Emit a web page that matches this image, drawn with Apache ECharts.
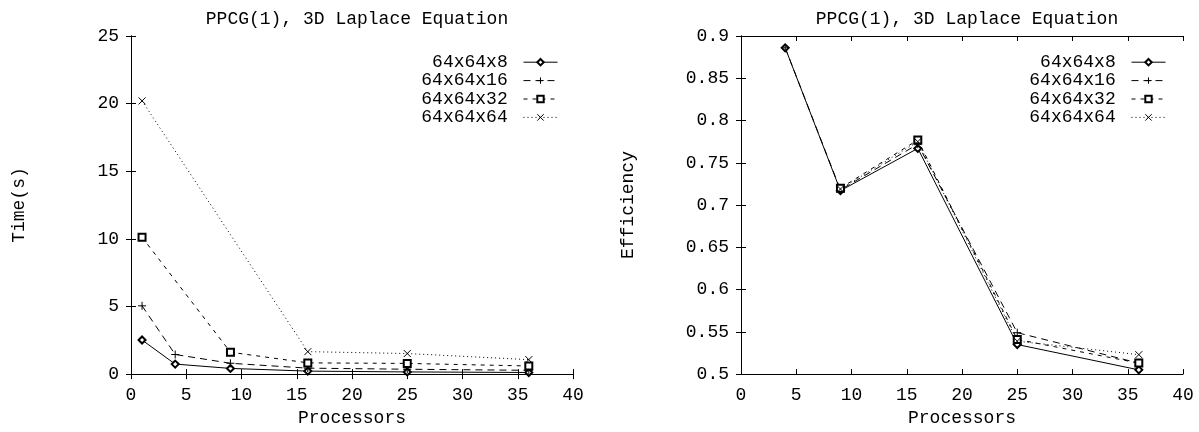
<!DOCTYPE html>
<html>
<head>
<meta charset="utf-8">
<script src="https://cdn.jsdelivr.net/npm/echarts@6/dist/echarts.min.js"></script>
<style>
  html, body { margin: 0; padding: 0; background: #fff; }
  #main { width: 1199px; height: 432px; }
</style>
</head>
<body>
<div id="main"></div>
<script>
// processors for the time plot
const procs = [1, 4, 9, 16, 25, 36]
const time8 = [2.52, 0.74, 0.42, 0.22, 0.16, 0.12]
const time16 = [5.05, 1.45, 0.8, 0.44, 0.36, 0.28]
const time32 = [10.12, null, 1.62, 0.83, 0.79, 0.6]
const time64 = [20.2, null, null, 1.66, 1.52, 1.07]

// processors for the efficiency plot
const effProcs = [4, 9, 16, 25, 36]
const eff8 = [0.886, 0.717, 0.767, 0.535, 0.505]
const eff16 = [0.886, 0.718, 0.772, 0.549, 0.513]
const eff32 = [null, 0.72, 0.777, 0.541, 0.513]
const eff64 = [null, 0.719, 0.775, 0.539, 0.523]

const names = ['64x64x8', '64x64x16', '64x64x32', '64x64x64']

const FONT = 'Liberation Mono'
const txt = { color: '#000', fontFamily: FONT, fontSize: 18 }

function pairs(xs, ys) {
  const out = []
  for (let i = 0; i < xs.length; i++) {
    if (ys[i] != null) out.push([xs[i], ys[i]])
  }
  return out
}

// styles: solid + diamond, long dash + plus, short dash + square, dotted + cross
const styles = [
  { type: 'solid', symbol: 'emptyDiamond', size: 7, stroke: false },
  { type: [7, 5], symbol: 'path://M5,0L5,10M0,5L10,5', size: 8, stroke: true },
  { type: [4, 5], symbol: 'emptyRect', size: 7, stroke: false },
  { type: [1, 3], symbol: 'path://M0,0L10,10M10,0L0,10', size: 7, stroke: true }
]

function makeSeries(name, i, xIdx, yIdx, data) {
  const s = styles[i]
  return {
    name: name,
    type: 'line',
    xAxisIndex: xIdx,
    yAxisIndex: yIdx,
    data: data,
    symbol: s.symbol,
    symbolSize: s.size,
    showAllSymbol: true,
    animation: false,
    lineStyle: { color: '#000', width: 1, type: s.type },
    itemStyle: s.stroke
      ? { color: 'transparent', borderColor: '#000', borderWidth: 1 }
      : { color: '#000', borderWidth: 1 },
    emphasis: { disabled: true }
  }
}

function xAx(gridIndex, pos, showLabel) {
  return {
    type: 'value', gridIndex: gridIndex, position: pos,
    min: 0, max: 40, interval: 5,
    name: showLabel ? 'Processors' : '',
    nameLocation: 'middle', nameGap: 27,
    nameTextStyle: txt,
    axisLine: { show: true, lineStyle: { color: '#000', width: 1 } },
    axisTick: { show: true, inside: true, length: 5, lineStyle: { color: '#000' } },
    axisLabel: { show: showLabel, margin: 12, ...txt },
    splitLine: { show: false }
  }
}

function yAx(gridIndex, pos, showLabel, min, max, interval, name, gap) {
  return {
    type: 'value', gridIndex: gridIndex, position: pos,
    min: min, max: max, interval: interval,
    name: showLabel ? name : '',
    nameLocation: 'middle', nameGap: gap,
    nameTextStyle: txt,
    axisLine: { show: true, lineStyle: { color: '#000', width: 1 } },
    axisTick: { show: true, inside: true, length: 5, lineStyle: { color: '#000' } },
    axisLabel: { show: showLabel, margin: 12, ...txt },
    splitLine: { show: false }
  }
}

function legend(right) {
  return {
    data: names,
    orient: 'vertical',
    right: right,
    top: 48,
    align: 'right',
    itemWidth: 34,
    itemHeight: 8,
    itemGap: 0,
    selectedMode: false,
    lineStyle: { width: 1 },
    itemStyle: { borderWidth: 1 },
    formatter: n => n.padStart(8, ' ') + ' ',
    textStyle: { ...txt, lineHeight: 18.4, padding: [0, 0, 0, 0] }
  }
}

const timeData = [time8, time16, time32, time64]
const effData = [eff8, eff16, eff32, eff64]

const series = []
names.forEach((n, i) => series.push(makeSeries(n, i, 0, 0, pairs(procs, timeData[i]))))
names.forEach((n, i) => series.push(makeSeries(n, i, 2, 2, pairs(effProcs, effData[i]))))

const option = {
  backgroundColor: '#fff',
  animation: false,
  title: [
    { text: 'PPCG(1), 3D Laplace Equation', left: 352, top: 5, textAlign: 'center', textStyle: { ...txt, fontWeight: 'normal' } },
    { text: 'PPCG(1), 3D Laplace Equation', left: 962, top: 5, textAlign: 'center', textStyle: { ...txt, fontWeight: 'normal' } }
  ],
  legend: [legend(636), legend(28)],
  grid: [
    { left: 131, right: 626, top: 36, bottom: 46 },
    { left: 741, right: 16, top: 36, bottom: 46 }
  ],
  xAxis: [
    xAx(0, 'bottom', true), xAx(0, 'top', false),
    xAx(1, 'bottom', true), xAx(1, 'top', false)
  ],
  yAxis: [
    yAx(0, 'left', true, 0, 25, 5, 'Time(s)', 103), yAx(0, 'right', false, 0, 25, 5, '', 0),
    yAx(1, 'left', true, 0.5, 0.9, 0.05, 'Efficiency', 104), yAx(1, 'right', false, 0.5, 0.9, 0.05, '', 0)
  ],
  series: series
}

const chart = echarts.init(document.getElementById('main'))
chart.setOption(option)
</script>
</body>
</html>
